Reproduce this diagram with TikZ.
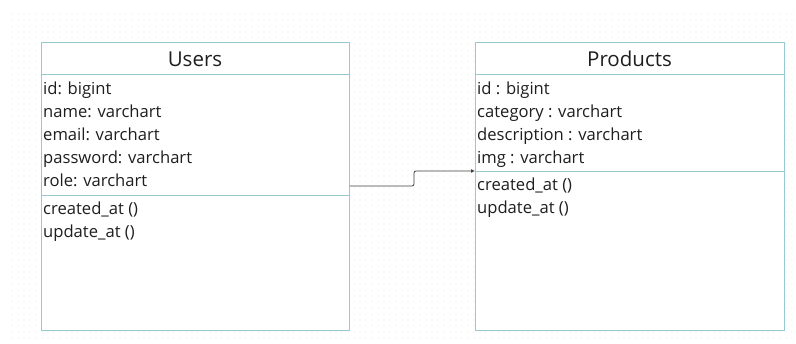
\documentclass[tikz,border=0pt]{standalone}
\usepackage{fontspec}
\setmainfont{Open Sans}
\usetikzlibrary{arrows.meta}
\definecolor{edge}{HTML}{97C9CE}
\definecolor{ink}{HTML}{1E1E1E}
\definecolor{griddot}{HTML}{E3E6E8}
\tikzset{
  classbox/.style={draw=edge, line width=0.9pt, fill=white},
  sepline/.style={draw=edge, line width=0.9pt},
  attr/.style={anchor=base west, inner sep=0pt, text=ink, font=\fontsize{16.6}{19}\selectfont},
  title/.style={anchor=base, text=ink, font=\fontsize{20.5}{23}\selectfont, inner sep=0pt},
  link/.style={draw=ink!85, line width=0.8pt, rounded corners=2pt, -{Latex[length=4pt,width=4pt]}}
}
\begin{document}
\begin{tikzpicture}[x=1pt,y=-1pt]
\useasboundingbox (0,0) rectangle (796,344);
\fill[white] (0,0) rectangle (796,344);
% faint dotted canvas
\foreach \i in {0,...,130}{
  \foreach \j in {0,...,54}{
    \fill[griddot] (12+\i*6,14+\j*6) circle (0.7);
  }
}
% Users class
\node[classbox, minimum width=308, minimum height=288, anchor=north west, inner sep=0pt] (users) at (41,42) {};
\draw[sepline] (41,74) -- (349,74);
\draw[sepline] (41,195) -- (349,195);
\node[title] (ut) at (195,66.5) {Users};
\node[attr] (u1) at (43,94.5) {id: bigint};
\node[attr] (u2) at (43,117.5) {name: varchart};
\node[attr] (u3) at (43,140.5) {email: varchart};
\node[attr] (u4) at (43,163.5) {password: varchart};
\node[attr] (u5) at (43,187) {role: varchart};
\node[attr] (u6) at (43,214.5) {created\_at ()};
\node[attr] (u7) at (43,237.5) {update\_at ()};
% Products class
\node[classbox, minimum width=309, minimum height=288, anchor=north west, inner sep=0pt] (prod) at (475,42) {};
\draw[sepline] (475,74) -- (784,74);
\draw[sepline] (475,171) -- (784,171);
\node[title] (pt) at (629.5,66.5) {Products};
\node[attr] (p1) at (477,94.5) {id : bigint};
\node[attr] (p2) at (477,117.5) {category : varchart};
\node[attr] (p3) at (477,140.5) {description : varchart};
\node[attr] (p4) at (477,163.5) {img : varchart};
\node[attr] (p5) at (477,191) {created\_at ()};
\node[attr] (p6) at (477,214) {update\_at ()};
% association
\coordinate (ua) at (users.east |- 0,186);
\coordinate (pa) at (prod.west |- 0,171);
\draw[link] (ua) -- (414,186) -- (414,171) -- (pa);
\end{tikzpicture}
\end{document}
